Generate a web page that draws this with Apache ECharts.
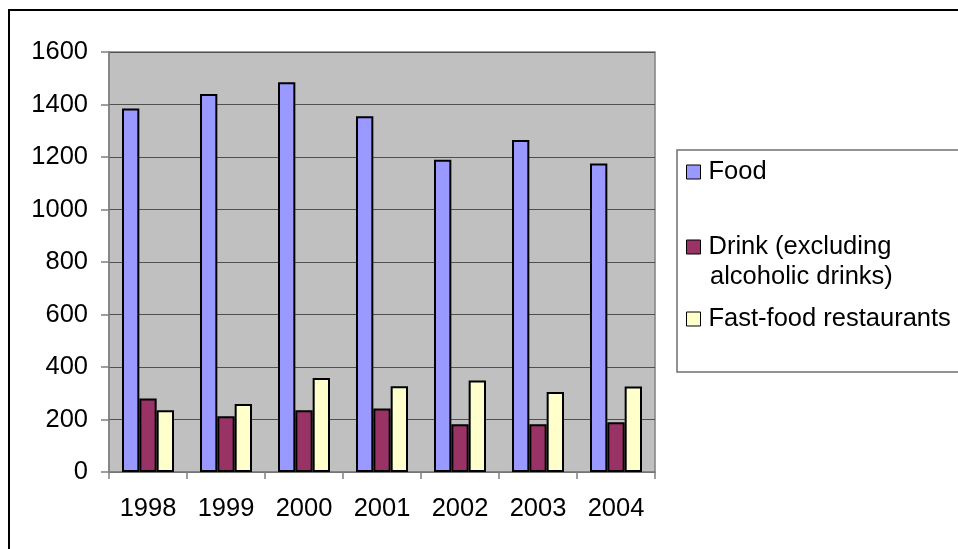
<!DOCTYPE html>
<html>
<head>
<meta charset="utf-8">
<script src="https://cdn.jsdelivr.net/npm/echarts@6/dist/echarts.min.js"></script>
<style>
  html, body { margin: 0; padding: 0; background: #ffffff; }
  #chart { width: 958px; height: 549px; }
</style>
</head>
<body>
<div id="chart"></div>
<script>
// Yearly spending by category
const years = ['1998', '1999', '2000', '2001', '2002', '2003', '2004'];
const seriesNames = ['Food', 'Drink (excluding alcoholic drinks)', 'Fast-food restaurants'];
const food = [1385, 1440, 1485, 1355, 1190, 1265, 1175];
const drink = [280, 212, 235, 242, 182, 182, 190];
const fastFood = [235, 259, 358, 327, 349, 305, 326];
const yTicks = { min: 0, max: 1600, interval: 200 };

const colors = ['#9999FF', '#993366', '#FFFFCC'];
const FONT = '"Liberation Sans", Arial, sans-serif';
const FS = 25.5;

const chart = echarts.init(document.getElementById('chart'), null, { renderer: 'canvas' });

function bar(name, data, color) {
  return {
    name: name,
    type: 'bar',
    data: data,
    barGap: '0%',
    barCategoryGap: '33.33%',
    itemStyle: { color: color, borderColor: '#000000', borderWidth: 2 },
    emphasis: { disabled: true }
  };
}

function legendItem(name, centerY) {
  return {
    data: [name],
    orient: 'vertical',
    left: 686,
    top: centerY - 14,
    padding: 0,
    itemWidth: 14,
    itemHeight: 14,
    itemGap: 0,
    selectedMode: false,
    icon: 'rect',
    formatter: function (n) { return n === seriesNames[1] ? 'Drink (excluding' : n; },
    itemStyle: { borderColor: '#000000', borderWidth: 1 },
    textStyle: { fontFamily: FONT, fontSize: FS, color: '#000000', lineHeight: 28, padding: [0, 0, 0, 3] }
  };
}

chart.setOption({
  animation: false,
  backgroundColor: '#ffffff',
  color: colors,
  textStyle: { fontFamily: FONT },
  grid: {
    left: 109, right: 303, top: 52, bottom: 77,
    show: true,
    backgroundColor: '#C0C0C0',
    borderColor: '#808080',
    borderWidth: 1.5,
    containLabel: false
  },
  legend: [
    legendItem(seriesNames[0], 172),
    legendItem(seriesNames[1], 247),
    legendItem(seriesNames[2], 319)
  ],
  graphic: [
    {
      type: 'rect', silent: true, z: 100,
      shape: { x: 9, y: 10, width: 1000, height: 600 },
      style: { fill: 'none', stroke: '#000000', lineWidth: 2 }
    },
    {
      type: 'rect', silent: true, z: 100,
      shape: { x: 677, y: 150, width: 400, height: 222 },
      style: { fill: 'none', stroke: '#707070', lineWidth: 1.5 }
    },
    {
      type: 'text', silent: true, z: 100,
      x: 710, y: 277,
      style: {
        text: 'alcoholic drinks)',
        font: FS + 'px ' + FONT,
        fill: '#000000',
        verticalAlign: 'middle',
        align: 'left'
      }
    }
  ],
  xAxis: {
    type: 'category',
    data: years,
    boundaryGap: true,
    axisLine: { show: true, lineStyle: { color: '#808080', width: 1.5 } },
    axisTick: { show: true, length: 7, lineStyle: { color: '#808080', width: 1.5 } },
    axisLabel: { fontSize: FS, color: '#000000', margin: 24, fontFamily: FONT },
    splitLine: { show: false }
  },
  yAxis: {
    type: 'value',
    min: yTicks.min,
    max: yTicks.max,
    interval: yTicks.interval,
    axisLine: { show: true, lineStyle: { color: '#808080', width: 1.5 } },
    axisTick: { show: true, length: 8, lineStyle: { color: '#808080', width: 1.5 } },
    axisLabel: {
      fontSize: FS, color: '#000000', margin: 21, fontFamily: FONT,
      formatter: function (v) { return String(v); }
    },
    splitLine: { show: true, lineStyle: { color: '#505050', width: 1.2 } }
  },
  series: [
    bar(seriesNames[0], food, colors[0]),
    bar(seriesNames[1], drink, colors[1]),
    bar(seriesNames[2], fastFood, colors[2])
  ]
});
</script>
</body>
</html>
